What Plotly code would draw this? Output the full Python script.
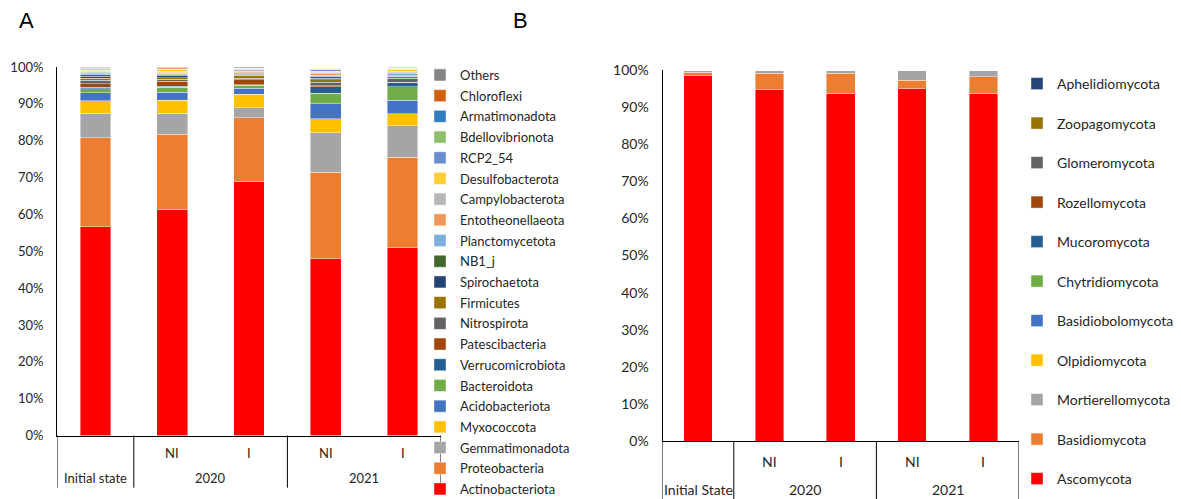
import plotly.graph_objects as go

# The page has an 8 px body margin, so the figure is drawn at (8, 8).
OX, OY = 8, 8
W, H = 1181 - OX, 499 - OY
FONT = "Lato"
TXT = "#262626"

# ---------------- data: panel A (bacteria, % relative abundance) ----------------
samples = ["Initial state", "2020 NI", "2020 I", "2021 NI", "2021 I"]
groups_row = ["", "NI", "I", "NI", "I"]
years_A = ["Initial state", "2020", "2021"]

bact_names = ["Actinobacteriota", "Proteobacteria", "Gemmatimonadota", "Myxococcota",
              "Acidobacteriota", "Bacteroidota", "Verrucomicrobiota", "Patescibacteria",
              "Nitrospirota", "Firmicutes", "Spirochaetota", "NB1_j", "Planctomycetota",
              "Entotheonellaeota", "Campylobacterota", "Desulfobacterota", "RCP2_54",
              "Bdellovibrionota", "Armatimonadota", "Chloroflexi", "Others"]
bact_colors = ["#FF0000", "#ED7D31", "#A5A5A5", "#FFC000", "#4472C4", "#70AD47",
               "#255E91", "#9E480E", "#636363", "#997300", "#264478", "#43682B",
               "#7CAFDD", "#F1975A", "#B7B7B7", "#FFCD33", "#698ED0", "#8CC168",
               "#327DC2", "#D26012", "#858585"]

Actinobacteriota = [56.6, 61.4, 68.8, 48.1, 51.0]
Proteobacteria = [24.2, 20.4, 17.4, 23.3, 24.5]
Gemmatimonadota = [6.6, 5.6, 2.7, 10.7, 8.6]
Myxococcota = [3.4, 3.6, 3.7, 3.9, 3.2]
Acidobacteriota = [2.2, 2.2, 1.6, 4.0, 3.7]
Bacteroidota = [1.1, 1.3, 0.9, 2.9, 3.6]
Verrucomicrobiota = [0.4, 0.3, 0.1, 1.7, 1.1]
Patescibacteria = [1.0, 1.4, 1.4, 0.3, 0.2]
Nitrospirota = [0.9, 0.5, 0.3, 0.9, 1.1]
Firmicutes = [0.5, 0.4, 0.8, 0.8, 0.3]
Spirochaetota = [0.6, 0.7, 0.3, 0.4, 0.2]
NB1_j = [0.4, 0.3, 0.3, 0.3, 0.3]
Planctomycetota = [0.3, 0.2, 0.2, 0.5, 0.4]
Entotheonellaeota = [0.3, 0.3, 0.4, 0.4, 0.3]
Campylobacterota = [0.3, 0.2, 0.3, 0.4, 0.3]
Desulfobacterota = [0.3, 0.4, 0.1, 0.3, 0.4]
RCP2_54 = [0.2, 0.1, 0.1, 0.3, 0.2]
Bdellovibrionota = [0.2, 0.1, 0.1, 0.2, 0.2]
Armatimonadota = [0.1, 0.1, 0.1, 0.1, 0.1]
Chloroflexi = [0.2, 0.3, 0.1, 0.1, 0.2]
Others = [0.2, 0.2, 0.3, 0.1, 0.1]
bact_values = [Actinobacteriota, Proteobacteria, Gemmatimonadota, Myxococcota,
               Acidobacteriota, Bacteroidota, Verrucomicrobiota, Patescibacteria,
               Nitrospirota, Firmicutes, Spirochaetota, NB1_j, Planctomycetota,
               Entotheonellaeota, Campylobacterota, Desulfobacterota, RCP2_54,
               Bdellovibrionota, Armatimonadota, Chloroflexi, Others]

# ---------------- data: panel B (fungi) ----------------
years_B = ["Initial State", "2020", "2021"]
fung_names = ["Ascomycota", "Basidiomycota", "Mortierellomycota", "Olpidiomycota",
              "Basidiobolomycota", "Chytridiomycota", "Mucoromycota", "Rozellomycota",
              "Glomeromycota", "Zoopagomycota", "Aphelidiomycota"]
fung_colors = ["#FF0000", "#ED7D31", "#A5A5A5", "#FFC000", "#4472C4", "#70AD47",
               "#255E91", "#9E480E", "#636363", "#997300", "#264478"]
Ascomycota = [98.6, 94.7, 93.6, 95.1, 93.6]
Basidiomycota = [0.8, 4.4, 5.5, 2.1, 4.6]
Mortierellomycota = [0.5, 0.8, 0.8, 2.6, 1.7]
Olpidiomycota = [0.03, 0.02, 0.02, 0.15, 0.03]
Basidiobolomycota = [0.01, 0.01, 0.01, 0.01, 0.01]
Chytridiomycota = [0.02, 0.03, 0.03, 0.02, 0.03]
Mucoromycota = [0.02, 0.02, 0.02, 0.01, 0.02]
Rozellomycota = [0.01, 0.01, 0.01, 0.01, 0.01]
Glomeromycota = [0.01, 0.01, 0.01, 0.01, 0.01]
Zoopagomycota = [0.005, 0.005, 0.005, 0.005, 0.005]
Aphelidiomycota = [0.005, 0.005, 0.005, 0.005, 0.005]
fung_values = [Ascomycota, Basidiomycota, Mortierellomycota, Olpidiomycota,
               Basidiobolomycota, Chytridiomycota, Mucoromycota, Rozellomycota,
               Glomeromycota, Zoopagomycota, Aphelidiomycota]

y_ticks = list(range(0, 101, 10))
y_ticktext = [f"{v}%" for v in y_ticks]

# ---------------- layout geometry (screen pixels -> paper) ----------------
def px(x):
    return (x - OX) / W

def py(y):
    return (H - (y - OY)) / H

fig = go.Figure()

nA = len(bact_names)
for i, (name, vals, col) in enumerate(zip(bact_names, bact_values, bact_colors)):
    fig.add_trace(go.Bar(x=samples, y=vals, name=name, marker_color=col,
                         marker_line=dict(color="rgba(255,255,255,0.7)", width=0.6),
                         width=0.4, xaxis="x", yaxis="y", legend="legend",
                         legendgroup="A_" + name, legendrank=nA - i))

nB = len(fung_names)
for i, (name, vals, col) in enumerate(zip(fung_names, fung_values, fung_colors)):
    fig.add_trace(go.Bar(x=samples, y=vals, name=name, marker_color=col,
                         marker_line=dict(color="rgba(255,255,255,0.7)", width=0.6),
                         width=0.4, xaxis="x2", yaxis="y2", legend="legend2",
                         legendgroup="B_" + name, legendrank=nB - i))

axis_common = dict(showgrid=False, zeroline=False)
fig.update_layout(
    width=W, height=H, barmode="stack",
    margin=dict(l=0, r=0, t=0, b=0, autoexpand=False),
    paper_bgcolor="white", plot_bgcolor="white",
    font=dict(family=FONT, color=TXT),
    xaxis=dict(domain=[px(57), px(441)], range=[-0.5, 4.5], showticklabels=False,
               showline=True, linecolor="black", linewidth=1, ticks="", **axis_common),
    yaxis=dict(domain=[py(435.5), py(67)], range=[0, 100], tickvals=y_ticks,
               ticktext=y_ticktext, showline=True, linecolor="black", linewidth=1,
               ticks="", ticklabelstandoff=10, tickfont=dict(size=13, color=TXT),
               anchor="x", **axis_common),
    xaxis2=dict(domain=[px(662.5), px(1019)], range=[-0.5, 4.5], showticklabels=False,
                showline=True, linecolor="black", linewidth=1, ticks="", anchor="y2",
                **axis_common),
    yaxis2=dict(domain=[py(441), py(70)], range=[0, 100], tickvals=y_ticks,
                ticktext=y_ticktext, showline=True, linecolor="black", linewidth=1,
                ticks="", ticklabelstandoff=10, tickfont=dict(size=14, color=TXT),
                anchor="x2", **axis_common),
    legend=dict(x=px(420), y=py(60), xanchor="left", yanchor="top",
                traceorder="grouped", tracegroupgap=0.8,
                font=dict(size=13, color=TXT), bgcolor="rgba(0,0,0,0)"),
    legend2=dict(x=px(1017), y=py(68), xanchor="left", yanchor="top",
                 traceorder="grouped", tracegroupgap=18.3,
                 font=dict(size=14, color=TXT), bgcolor="rgba(0,0,0,0)"),
)

shapes = []
# panel A category table lines
for xv in [-0.5, 0.5, 2.5, 4.5]:
    shapes.append(dict(type="line", xref="x", yref="paper", x0=xv, x1=xv,
                       y0=py(435.5), y1=py(487.7), line=dict(color="black", width=1)))
# panel B category table lines
for xv in [-0.5, 0.5, 2.5, 4.5]:
    shapes.append(dict(type="line", xref="x2", yref="paper", x0=xv, x1=xv,
                       y0=py(441), y1=0, line=dict(color="black", width=1)))
fig.update_layout(shapes=shapes)

ann = []
mid = dict(showarrow=False, xanchor="center", yanchor="middle")
for i, g in enumerate(groups_row):
    if g:
        ann.append(dict(text=g, x=i, y=py(452.5), xref="x", yref="paper",
                        font=dict(size=13, color=TXT), **mid))
        ann.append(dict(text=g, x=i, y=py(461), xref="x2", yref="paper",
                        font=dict(size=14, color=TXT), **mid))
for xv, t in zip([0, 1.5, 3.5], years_A):
    ann.append(dict(text=t, x=xv, y=py(477.5), xref="x", yref="paper",
                    font=dict(size=13, color=TXT), **mid))
for xv, t in zip([0, 1.5, 3.5], years_B):
    ann.append(dict(text=t, x=xv, y=py(489), xref="x2", yref="paper",
                    font=dict(size=14, color=TXT), **mid))
ann.append(dict(text="A", x=px(26), y=py(21), xref="paper", yref="paper",
                font=dict(size=22, color="black", family="Liberation Sans"), **mid))
ann.append(dict(text="B", x=px(520), y=py(21), xref="paper", yref="paper",
                font=dict(size=22, color="black", family="Liberation Sans"), **mid))
fig.update_layout(annotations=ann)

fig.write_html("out.html")
